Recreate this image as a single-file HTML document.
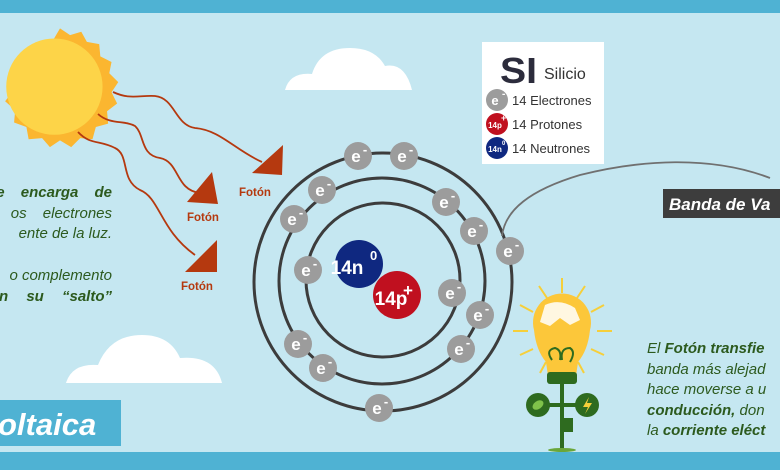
<!DOCTYPE html>
<html><head><meta charset="utf-8"><style>
html,body{margin:0;padding:0;width:780px;height:470px;overflow:hidden;background:#c5e7f1}
svg{display:block;font-family:"Liberation Sans",sans-serif}
</style></head><body>
<svg width="780" height="470" viewBox="0 0 780 470" xmlns="http://www.w3.org/2000/svg">
<defs>
<g id="e"><circle r="14" fill="#9c9c9c"/><text x="-2" y="6" font-size="17" font-weight="bold" fill="#fff" text-anchor="middle">e</text><text x="7" y="-2" font-size="13" font-weight="bold" fill="#fff" text-anchor="middle">-</text></g>
</defs>
<rect width="780" height="470" fill="#c5e7f1"/>
<rect width="780" height="13" fill="#4fb2d3"/>
<rect y="452" width="780" height="18" fill="#4fb2d3"/>
<!-- clouds -->
<g fill="#fff">
<path d="M285 90 Q290 72 312 74 Q320 48 350 48 Q375 48 385 66 Q405 62 412 90 Z"/>
<path d="M66 383 Q72 363 98 365 Q110 335 142 335 Q170 335 180 358 Q215 355 222 383 Z"/>
</g>
<!-- sun -->
<g transform="translate(60,90) scale(1.12)">
<path fill="#fbb630" d="M0,-55 L9,-49 L19,-52 L24,-43 L35,-41 L36,-30 L46,-25 L44,-15 L52,-7 L46,2 L51,12 L42,19 L43,30 L32,33 L29,44 L18,43 L10,51 L0,45 L-9,51 L-16,43 L-28,44 L-30,33 L-41,29 L-40,18 L-49,10 L-42,1 L-47,-9 L-37,-15 L-37,-27 L-26,-30 L-21,-40 L-10,-38 Z"/>
<circle cx="-5" cy="-3" r="43" fill="#fdd448"/>
</g>
<!-- wavy photon lines -->
<g fill="none" stroke="#b5390f" stroke-width="1.8">
<path d="M113 92 C130 100 140 95 155 96 C175 98 175 125 195 128 C220 130 235 150 262 162"/>
<path d="M98 114 C110 125 125 120 135 126 C145 135 140 155 160 158 C180 162 175 190 200 193"/>
<path d="M78 132 C90 145 100 140 115 148 C130 155 120 180 140 190 C160 198 160 230 195 255"/>
</g>
<g fill="#b5390f">
<path d="M283 145 L282 175 L252 173 Z"/>
<path d="M212 172 L218 204 L187 202 Z"/>
<path d="M217 240 L217 272 L185 272 Z"/>
</g>
<g fill="#b5390f" font-size="11.5" font-weight="bold">
<text x="239" y="196">Fotón</text>
<text x="187" y="221">Fotón</text>
<text x="181" y="290">Fotón</text>
</g>
<!-- left text -->
<g fill="#2c5a1e" font-size="15" font-style="italic" text-anchor="end">
<text x="112" y="197" font-weight="bold" style="word-spacing:12px">e encarga de</text>
<text x="112" y="218" style="word-spacing:12px">os electrones</text>
<text x="112" y="238">ente de la luz.</text>
<text x="112" y="280">o complemento</text>
<text x="112" y="301" font-weight="bold" style="word-spacing:14px">n su “salto”</text>
</g>
<!-- title -->
<rect x="0" y="400" width="121" height="46" fill="#4fb2d3"/>
<text x="-2" y="435" fill="#fff" font-size="31" font-weight="bold" font-style="italic">oltaica</text>
<!-- orbits -->
<g fill="none" stroke="#3c3c3c" stroke-width="3">
<circle cx="383" cy="282" r="129"/>
<circle cx="382" cy="281" r="103"/>
<circle cx="383" cy="280" r="77"/>
</g>
<!-- connector -->
<path d="M502 236 C505 210 530 190 580 175 C640 160 710 155 770 178" fill="none" stroke="#707070" stroke-width="1.8"/>
<!-- nucleus -->
<circle cx="359" cy="264" r="24" fill="#0f2880"/>
<circle cx="397" cy="295" r="24" fill="#c0101f"/>
<text x="347" y="274" fill="#fff" font-size="19" font-weight="bold" text-anchor="middle">14n</text>
<text x="370" y="260" fill="#fff" font-size="13" font-weight="bold">0</text>
<text x="391" y="305" fill="#fff" font-size="19" font-weight="bold" text-anchor="middle">14p</text>
<text x="403" y="296" fill="#fff" font-size="17" font-weight="bold">+</text>
<!-- electrons -->
<use href="#e" x="358" y="156"/><use href="#e" x="404" y="156"/>
<use href="#e" x="322" y="190"/><use href="#e" x="294" y="219"/>
<use href="#e" x="446" y="202"/><use href="#e" x="474" y="231"/>
<use href="#e" x="510" y="251"/><use href="#e" x="308" y="270"/>
<use href="#e" x="452" y="293"/><use href="#e" x="480" y="315"/>
<use href="#e" x="461" y="349"/><use href="#e" x="298" y="344"/>
<use href="#e" x="323" y="368"/><use href="#e" x="379" y="408"/>
<!-- legend -->
<rect x="482" y="42" width="122" height="122" fill="#fff"/>
<text x="500" y="83" fill="#2c2c3c" font-size="36" font-weight="bold" textLength="37" lengthAdjust="spacingAndGlyphs">SI</text>
<text x="544" y="79" fill="#333" font-size="16">Silicio</text>
<circle cx="497" cy="100" r="11" fill="#9c9c9c"/><text x="495" y="105" fill="#fff" font-size="13" font-weight="bold" text-anchor="middle">e</text><text x="502" y="97" fill="#fff" font-size="10" font-weight="bold">-</text>
<circle cx="497" cy="124" r="11" fill="#c0101f"/><text x="495" y="128" fill="#fff" font-size="8" font-weight="bold" text-anchor="middle">14p</text><text x="501" y="121" fill="#fff" font-size="9" font-weight="bold">+</text>
<circle cx="497" cy="148" r="11" fill="#0f2880"/><text x="495" y="152" fill="#fff" font-size="8" font-weight="bold" text-anchor="middle">14n</text><text x="502" y="145" fill="#fff" font-size="6" font-weight="bold">0</text>
<g fill="#333" font-size="13"><text x="512" y="105">14 Electrones</text><text x="512" y="129">14 Protones</text><text x="512" y="153">14 Neutrones</text></g>
<!-- banda -->
<rect x="663" y="189" width="117" height="29" fill="#3d3d3d"/>
<text x="669" y="210" fill="#fff" font-size="17" font-weight="bold" font-style="italic">Banda de Va</text>
<!-- bulb -->
<g stroke="#f6cf3a" stroke-width="2">
<line x1="562" y1="278" x2="562" y2="293"/><line x1="539" y1="286" x2="547" y2="298"/><line x1="585" y1="286" x2="577" y2="298"/>
<line x1="520" y1="305" x2="533" y2="312"/><line x1="604" y1="305" x2="591" y2="312"/>
<line x1="513" y1="331" x2="528" y2="331"/><line x1="597" y1="331" x2="612" y2="331"/>
<line x1="520" y1="355" x2="533" y2="349"/><line x1="604" y1="355" x2="591" y2="349"/>
<line x1="540" y1="373" x2="546" y2="362"/><line x1="584" y1="373" x2="578" y2="362"/>
</g>
<path d="M534 330 A29 29 0 1 1 590 330 Q588 350 578 362 L576 376 L548 376 L546 362 Q536 350 534 330 Z" fill="#fcc73a"/>
<path d="M545 305 Q560 298 575 308 L580 320 L570 325 L560 318 L550 326 L540 322 Z" fill="#fff" opacity="0.85"/>
<path d="M552 360 Q545 350 555 348 Q562 350 560 360 M562 360 Q560 348 570 348 Q576 352 570 362" fill="none" stroke="#2e6b1f" stroke-width="2"/>
<rect x="547" y="372" width="30" height="12" rx="3" fill="#2e6b1f"/>
<rect x="560" y="384" width="4" height="66" fill="#2e6b1f"/>
<rect x="540" y="403" width="44" height="4" fill="#2e6b1f"/>
<circle cx="538" cy="405" r="12" fill="#2e6b1f"/><circle cx="587" cy="405" r="12" fill="#2e6b1f"/>
<ellipse cx="538" cy="405" rx="6" ry="4" fill="#7fc24a" transform="rotate(-35 538 405)"/>
<path d="M589 397 L583 407 L588 407 L585 414 L592 403 L587 403 Z" fill="#f6cf3a"/>
<rect x="563" y="418" width="10" height="14" fill="#2e6b1f"/>
<ellipse cx="562" cy="450" rx="14" ry="2" fill="#6aa63a"/>
<!-- right text -->
<g fill="#2c5a1e" font-size="15" font-style="italic">
<text x="647" y="353">El <tspan font-weight="bold">Fotón transfie</tspan></text>
<text x="647" y="374">banda más alejad</text>
<text x="647" y="394">hace moverse a u</text>
<text x="647" y="415" font-weight="bold">conducción,<tspan font-weight="normal"> don</tspan></text>
<text x="647" y="435">la <tspan font-weight="bold">corriente eléct</tspan></text>
</g>
</svg>
</body></html>
